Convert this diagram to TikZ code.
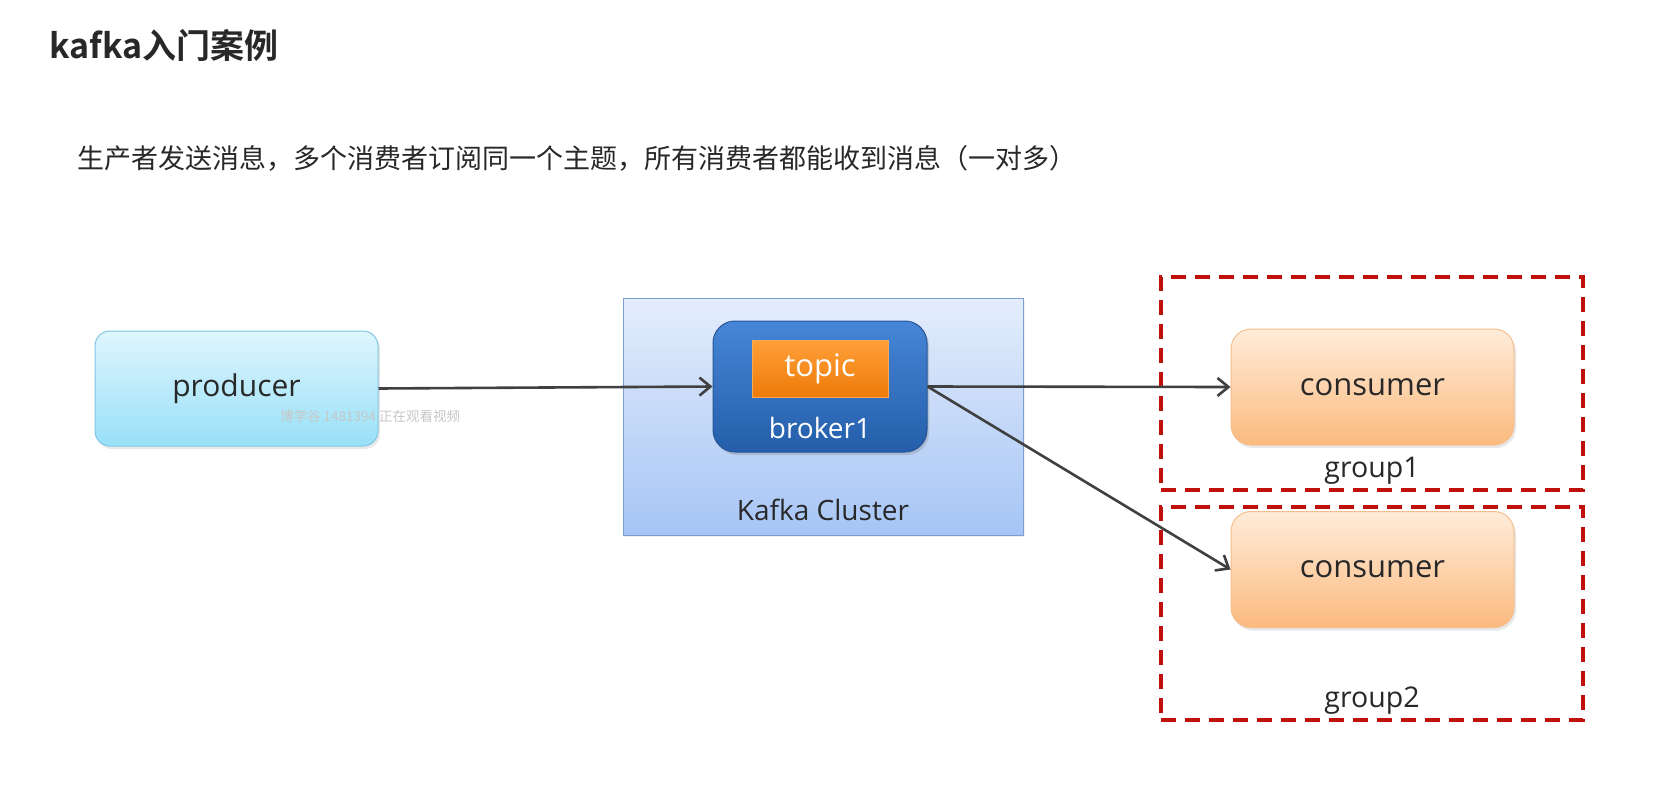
\documentclass[tikz,border=0pt]{standalone}
\usepackage{fontspec}
\setmainfont{Open Sans}
\newfontfamily\cjk{Noto Sans CJK SC}[BoldFont={Noto Sans CJK SC Bold}]
\usepackage{tikz}
\usetikzlibrary{positioning,arrows.meta,shadows}
\definecolor{txtgray}{RGB}{40,40,40}
\definecolor{arrgray}{RGB}{64,64,64}
\definecolor{prodtop}{RGB}{222,246,253}
\definecolor{prodbot}{RGB}{152,224,248}
\definecolor{prodline}{RGB}{128,198,226}
\definecolor{clustop}{RGB}{228,237,252}
\definecolor{clusbot}{RGB}{166,197,245}
\definecolor{clusline}{RGB}{124,158,210}
\definecolor{brktop}{RGB}{70,134,214}
\definecolor{brkbot}{RGB}{36,94,170}
\definecolor{brkline}{RGB}{38,86,150}
\definecolor{topictop}{RGB}{255,160,56}
\definecolor{topicbot}{RGB}{238,122,10}
\definecolor{topicline}{RGB}{250,170,80}
\definecolor{constop}{RGB}{255,236,218}
\definecolor{consbot}{RGB}{252,186,126}
\definecolor{consline}{RGB}{246,190,140}
\definecolor{groupred}{RGB}{192,16,12}
\tikzset{
  prodnode/.style={draw=prodline, top color=prodtop, bottom color=prodbot, rounded corners=15pt,
                   line width=1pt, minimum width=283pt, minimum height=115pt,
                   font=\fontsize{30}{35}\selectfont, text=txtgray,
                   drop shadow={opacity=0.18, shadow xshift=2pt, shadow yshift=-3pt}},
  clusnode/.style={draw=clusline, top color=clustop, bottom color=clusbot, line width=1pt,
                   minimum width=400pt, minimum height=237pt,
                   drop shadow={opacity=0.12, shadow xshift=2pt, shadow yshift=-2pt}},
  brknode/.style={draw=brkline, top color=brktop, bottom color=brkbot, rounded corners=22pt,
                  line width=1pt, minimum width=214pt, minimum height=131pt,
                  drop shadow={opacity=0.3, shadow xshift=2pt, shadow yshift=-3pt}},
  topicnode/.style={draw=topicline, top color=topictop, bottom color=topicbot, line width=1pt,
                    minimum width=136pt, minimum height=57pt, text=white,
                    font=\fontsize{31}{36}\selectfont},
  consnode/.style={draw=consline, top color=constop, bottom color=consbot, rounded corners=20pt,
                   line width=1pt, minimum width=283pt, minimum height=116pt,
                   font=\fontsize{31}{36}\selectfont, text=txtgray,
                   drop shadow={opacity=0.18, shadow xshift=2pt, shadow yshift=-3pt}},
  groupbox/.style={draw=groupred, line width=3.8pt, dash pattern=on 15pt off 9pt,
                   minimum width=422pt, minimum height=213pt},
  lbl/.style={inner sep=0pt, font=\fontsize{28.5}{33}\selectfont, text=txtgray},
  arr/.style={-{Straight Barb[length=11pt,width=18pt]}, line width=2.6pt, arrgray}
}
\begin{document}
\begin{tikzpicture}[x=1pt, y=1pt]
  \useasboundingbox[fill=white] (0,0) rectangle (1657,-793);

  % Title and description
  \node[anchor=west, inner sep=0pt, font=\cjk\bfseries\fontsize{34}{40}\selectfont, text=txtgray]
        (title) at (49,-45) {kafka入门案例};
  \node[anchor=west, inner sep=0pt, font=\cjk\fontsize{27}{32}\selectfont, text=txtgray]
        (desc) at (77,-158) {生产者发送消息，多个消费者订阅同一个主题，所有消费者都能收到消息（一对多）};

  % Producer
  \node[prodnode] (producer) at (236.5,-388.5) {producer};

  % Kafka cluster with broker
  \node[clusnode] (cluster) at (823,-416.5) {};
  \node[lbl, font=\fontsize{28}{33}\selectfont] (cluslabel) at ([yshift=26pt]cluster.south) {Kafka Cluster};
  \node[brknode] (broker) at (820,-386.5) {};
  \node[topicnode] (topic) at ([yshift=18pt]broker.center) {topic};
  \node[lbl, text=white, font=\fontsize{28}{33}\selectfont]
        (brokerlabel) at ([yshift=-41pt]broker.center) {broker1};

  % Consumer groups
  \node[groupbox] (group1) at (1372,-383.5) {};
  \node[groupbox] (group2) at (1372,-613.5) {};
  \node[consnode] (cons1) at (1372.5,-387) {consumer};
  \node[consnode] (cons2) at (1372.5,-569.5) {consumer};
  \node[lbl] (g1label) at ([yshift=21pt]group1.south) {group1};
  \node[lbl] (g2label) at ([yshift=21pt]group2.south) {group2};

  % Arrows
  \draw[arr] (producer.east) -- (broker.west);
  \draw[arr] (broker.east) -- (cons1.west);
  \draw[arr] (broker.east) -- (cons2.west);

  % Watermark
  \node[inner sep=0pt, font=\cjk\fontsize{13.5}{16}\selectfont, text=black!22]
        (watermark) at (370,-416.5) {博学谷 1481394 正在观看视频};
\end{tikzpicture}
\end{document}
